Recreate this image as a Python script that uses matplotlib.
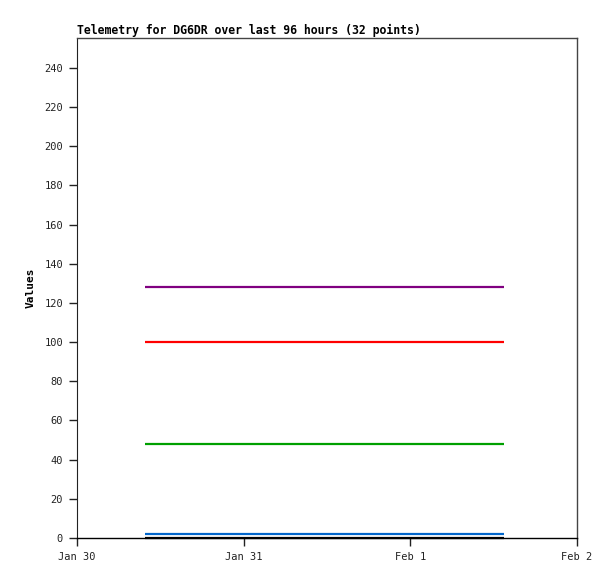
import pandas as pd
import matplotlib
matplotlib.use("Agg")
import matplotlib.pyplot as plt

times = ["2024-01-30 09:50", "2024-01-30 11:30", "2024-01-30 13:10", "2024-01-30 14:50",
         "2024-01-30 16:30", "2024-01-30 18:10", "2024-01-30 19:50", "2024-01-30 21:30",
         "2024-01-30 23:10", "2024-01-31 00:50", "2024-01-31 02:30", "2024-01-31 04:10",
         "2024-01-31 05:50", "2024-01-31 07:30", "2024-01-31 09:10", "2024-01-31 10:50",
         "2024-01-31 12:30", "2024-01-31 14:10", "2024-01-31 15:50", "2024-01-31 17:30",
         "2024-01-31 19:10", "2024-01-31 20:50", "2024-01-31 22:30", "2024-02-01 00:10",
         "2024-02-01 01:50", "2024-02-01 03:30", "2024-02-01 05:10", "2024-02-01 06:50",
         "2024-02-01 08:30", "2024-02-01 10:10", "2024-02-01 11:50", "2024-02-01 13:30"]
t = pd.to_datetime(times)

purple_vals = [128] * 32
red_vals = [100] * 32
green_vals = [48] * 32
blue_vals = [1.8] * 32
black_vals = [0] * 32

series = [
    (purple_vals, "#800080"),
    (red_vals, "#ff0000"),
    (green_vals, "#00a000"),
    (blue_vals, "#0066cc"),
    (black_vals, "#000000"),
]

yticks = list(range(0, 241, 20))
xticks = pd.to_datetime(["2024-01-30", "2024-01-31", "2024-02-01", "2024-02-02"])
xlabels = ["Jan 30", "Jan 31", "Feb 1", "Feb 2"]

plt.rcParams['font.family'] = ['DejaVu Sans Mono']

fig = plt.figure(figsize=(6.15, 5.79), dpi=100)
ax = fig.add_axes([77/615, 41/579, 500/615, 500/579])

for vals, c in series:
    ax.plot(t, vals, color=c, lw=1.6, solid_capstyle='butt', clip_on=False, zorder=3)

ax.set_xlim(xticks[0], xticks[-1])
ax.set_ylim(0, 255.3)
ax.set_yticks(yticks)
ax.set_xticks(xticks)
ax.set_xticklabels(xlabels)
ax.tick_params(direction='out', length=6, width=1, labelsize=7.5, colors='#222222', pad=4)
ax.tick_params(axis='x', pad=4)

for s in ['top', 'right']:
    ax.spines[s].set_color('#444444')
    ax.spines[s].set_linewidth(1)
ax.spines['left'].set_color('#222222')
ax.spines['bottom'].set_color('#000000')
ax.spines['bottom'].set_linewidth(1)

ax.set_ylabel("Values", fontsize=8, fontweight='bold', labelpad=6)
ax.set_title("Telemetry for DG6DR over last 96 hours (32 points)", fontsize=8.3,
             fontweight='bold', loc='left', pad=3)

fig.savefig("out.png", dpi=100)
